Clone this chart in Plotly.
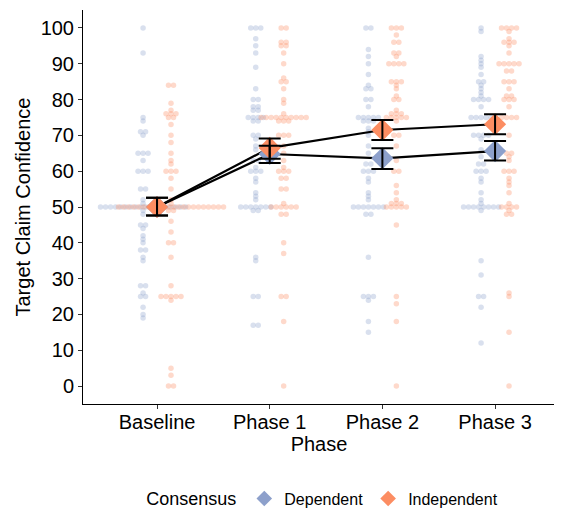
import plotly.graph_objects as go
from collections import Counter

phases = ["Baseline", "Phase 1", "Phase 2", "Phase 3"]
groups = ["Dependent", "Independent"]
colors = {"Dependent": "#8DA0CB", "Independent": "#FC8D62"}

# Raw responses
base_dep = [100, 93, 75, 74, 71, 71, 70, 65, 65, 65, 63, 60, 60, 60, 55, 55, 52, 51] + [50] * 18 + \
    [49, 48, 45, 45, 44, 42, 41, 40, 38, 38, 36, 35, 28, 28, 26, 25, 25, 22, 20, 19]
base_ind = [84, 84, 79, 77, 76, 76, 76, 75, 75, 73, 70, 68, 65, 63, 62, 60, 60, 60, 58, 55, 52, 51] + [50] * 22 + \
    [49, 49, 46, 43, 40, 40, 36, 28, 25, 25, 25, 25, 25, 24, 5, 3, 0, 0]
p1_dep = [100, 100, 100, 97, 95, 93, 89, 83, 80, 80, 78, 78, 77, 77, 75, 75, 75, 75, 74, 74, 70, 70, 69, 67, 66,
          63, 63, 61, 60, 60, 60, 58, 57, 54, 53, 52] + [50] * 7 + [49, 49, 36, 35, 25, 25, 17, 17]
p1_ind = [100, 100, 96, 96, 95, 95, 93, 90, 86, 85, 85, 83, 80, 79, 76] + [75] * 10 + \
    [74, 74, 74, 70, 70, 70, 67, 65, 63, 61, 60, 60, 60, 58, 58, 55, 55, 51] + [50] * 6 + \
    [48, 48, 40, 37, 25, 25, 18, 0]
p2_dep = [100, 100, 94, 92, 90, 87, 84, 83, 83, 80, 80, 78] + [75] * 5 + \
    [74, 74, 74, 72, 71, 70, 67, 65, 62, 62, 60, 60, 60, 58, 57, 54, 53, 52] + [50] * 7 + \
    [48, 48, 36, 25, 25, 25, 24, 18, 15]
p2_ind = [100, 100, 100, 98, 96, 96, 93, 93, 92, 90, 90, 90, 90, 85, 85, 85, 84, 83, 81, 80, 80, 77, 76, 76, 76] + \
    [75] * 5 + [74, 70, 70, 67, 63, 60, 60, 56, 54, 52, 51, 51, 51] + [50] * 5 + [45, 25, 23, 18, 0]
p3_dep = [100, 99, 92, 91, 90, 89, 87, 85, 85, 84, 83, 82, 81, 80, 80, 80, 80, 78] + [75] * 5 + \
    [70, 70, 70, 70, 69, 66, 64, 62, 62, 60, 60, 60, 58, 57, 54, 52, 51] + [50] * 8 + \
    [49, 35, 31, 25, 25, 22, 12]
p3_ind = [100, 100, 100, 100, 99, 97, 96, 96, 96, 95, 93] + [90] * 5 + [88, 88, 85, 85, 85, 83, 81, 81, 80, 80, 80, 78] + \
    [75] * 4 + [70, 65, 65, 64, 63, 60, 60, 60, 58, 57, 56, 54, 51] + [50] * 4 + [49, 48, 48, 26, 25, 15, 0]

raw = {
    "Dependent": [base_dep, p1_dep, p2_dep, p3_dep],
    "Independent": [base_ind, p1_ind, p2_ind, p3_ind],
}

# Means and 95% CI
mean_dep = [50.0, 64.8, 63.6, 65.6]
lo_dep = [47.6, 62.3, 60.6, 63.0]
hi_dep = [52.6, 67.1, 66.4, 68.4]
mean_ind = [50.0, 66.5, 71.5, 73.1]
lo_ind = [47.6, 63.5, 68.7, 70.3]
hi_ind = [52.6, 69.1, 74.3, 75.9]
means = {"Dependent": (mean_dep, lo_dep, hi_dep), "Independent": (mean_ind, lo_ind, hi_ind)}

dodge = {"Dependent": -0.124, "Independent": 0.124}
step = 0.0444

FONT = "Liberation Sans, Arial, sans-serif"
fig = go.Figure()

# dot-plot layer
for g in groups:
    xs, ys = [], []
    for i, vals in enumerate(raw[g]):
        cnt = Counter(vals)
        center = i + 1 + dodge[g]
        for v, n in cnt.items():
            for k in range(n):
                xs.append(center + (k - (n - 1) / 2) * step)
                ys.append(v)
    fig.add_trace(go.Scatter(
        x=xs, y=ys, mode="markers", showlegend=False, hoverinfo="skip",
        marker=dict(size=5.5, color=colors[g], opacity=0.33, line=dict(width=0)),
    ))

xpos = [1, 2, 3, 4]
# connecting lines
for g in groups:
    m = means[g][0]
    fig.add_trace(go.Scatter(x=xpos, y=m, mode="lines", showlegend=False,
                             line=dict(color="black", width=2.2), hoverinfo="skip"))
# diamonds
for g in groups:
    m = means[g][0]
    fig.add_trace(go.Scatter(x=xpos, y=m, mode="markers", name=g,
                             marker=dict(symbol="diamond", size=17, color=colors[g], line=dict(width=0))))
# error bars
for g in groups:
    m, lo, hi = means[g]
    fig.add_trace(go.Scatter(
        x=xpos, y=m, mode="markers", showlegend=False, hoverinfo="skip",
        marker=dict(size=1, color="rgba(0,0,0,0)"),
        error_y=dict(type="data", symmetric=False,
                     array=[h - a for h, a in zip(hi, m)],
                     arrayminus=[a - l for a, l in zip(m, lo)],
                     color="black", thickness=2, width=11),
    ))

fig.update_layout(
    width=554, height=500,
    margin=dict(l=75, r=7, t=2, b=104, autoexpand=False),
    paper_bgcolor="white", plot_bgcolor="white",
    font=dict(family=FONT, size=20, color="black"),
    showlegend=True,
    legend=dict(orientation="h", x=0.51, xanchor="center", y=-0.24, yanchor="middle",
                title=dict(text="Consensus", font=dict(size=18)),
                font=dict(size=16), itemsizing="constant"),
)
fig.update_xaxes(
    range=[0.343, 4.532], tickmode="array", tickvals=xpos, ticktext=phases,
    showgrid=False, zeroline=False, showline=True, linecolor="black", linewidth=1,
    ticks="outside", ticklen=4, tickcolor="#333333", automargin=False,
    ticklabelstandoff=-4,
    tickfont=dict(size=20, color="black"),
    title=dict(text="Phase", font=dict(size=20), standoff=2),
)
fig.update_yaxes(
    range=[-5, 105], tickmode="array", tickvals=list(range(0, 101, 10)),
    showgrid=False, zeroline=False, showline=True, linecolor="black", linewidth=1,
    ticks="outside", ticklen=4, tickcolor="#333333", automargin=False,
    tickfont=dict(size=20, color="black"),
    title=dict(text="Target Claim Confidence", font=dict(size=20), standoff=4),
)

fig.write_html("out.html")
